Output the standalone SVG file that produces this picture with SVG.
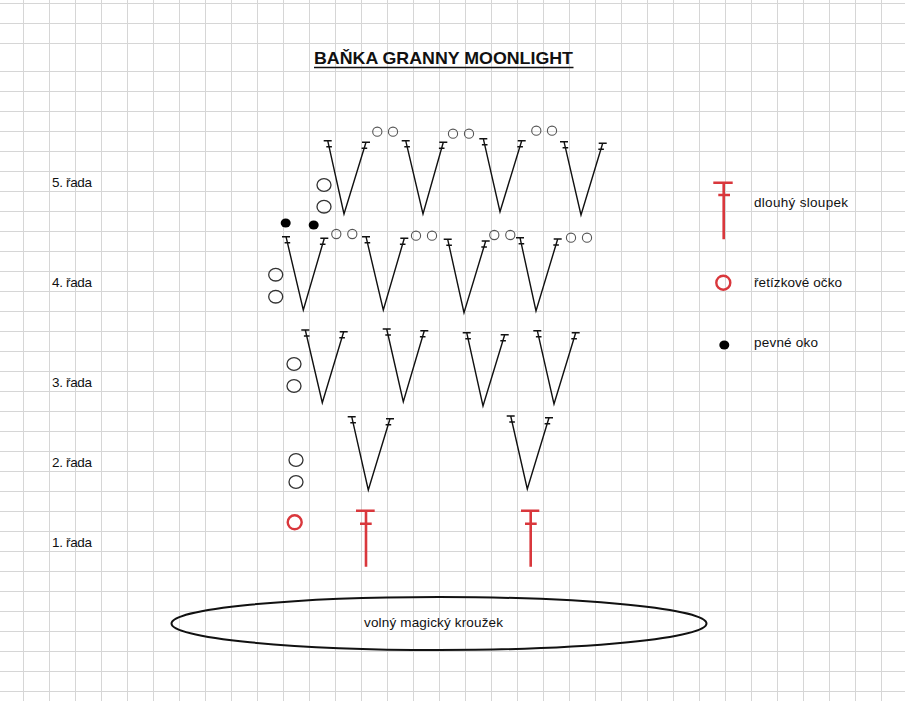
<svg xmlns="http://www.w3.org/2000/svg" width="905" height="701" viewBox="0 0 905 701">
<style>
.grid{stroke:#d6d6d6;stroke-width:1;fill:none}
.st{stroke:#111;stroke-width:1.4;fill:none;stroke-linecap:butt}
.ch{fill:none;stroke:#555;stroke-width:1.1}
.chb{fill:none;stroke:#333;stroke-width:1.3}
.sc{fill:#000}
.red{stroke:#d9373c;stroke-width:2.6;fill:none}
.redc{stroke:#d9373c;stroke-width:2.4;fill:none}
.lbl{font-family:"Liberation Sans",Arial,sans-serif;font-size:13.5px;fill:#111}
.title{font-family:"Liberation Sans",Arial,sans-serif;font-size:17px;font-weight:bold;fill:#111}
</style>
<rect width="905" height="701" fill="#fff"/>
<g id="grid">
<path class="grid" d="M23.5 0V701M49.5 0V701M75.5 0V701M101.5 0V701M127.5 0V701M153.5 0V701M179.5 0V701M205.5 0V701M231.5 0V701M257.5 0V701M283.5 0V701M309.5 0V701M335.5 0V701M361.5 0V701M387.5 0V701M413.5 0V701M439.5 0V701M465.5 0V701M491.5 0V701M517.5 0V701M543.5 0V701M569.5 0V701M595.5 0V701M621.5 0V701M647.5 0V701M673.5 0V701M699.5 0V701M725.5 0V701M751.5 0V701M777.5 0V701M803.5 0V701M829.5 0V701M855.5 0V701M881.5 0V701"/>
<path class="grid" d="M0 3.5H905M0 23.5H905M0 43.5H905M0 71.5H905M0 91.5H905M0 111.5H905M0 131.5H905M0 151.5H905M0 171.5H905M0 191.5H905M0 211.5H905M0 231.5H905M0 251.5H905M0 271.5H905M0 291.5H905M0 311.5H905M0 331.5H905M0 351.5H905M0 371.5H905M0 391.5H905M0 411.5H905M0 431.5H905M0 451.5H905M0 471.5H905M0 491.5H905M0 511.5H905M0 531.5H905M0 551.5H905M0 571.5H905M0 591.5H905M0 611.5H905M0 631.5H905M0 651.5H905M0 671.5H905M0 691.5H905"/>
</g>
<g id="title">
<text class="title" x="314" y="64" textLength="259" lengthAdjust="spacingAndGlyphs">BAŇKA GRANNY MOONLIGHT</text>
<path d="M314 67.5H573.5" stroke="#111" stroke-width="1.3"/>
</g>
<g id="row-labels">
<text class="lbl" x="52" y="187" textLength="40">5. řada</text>
<text class="lbl" x="52" y="287" textLength="40">4. řada</text>
<text class="lbl" x="52" y="387" textLength="40">3. řada</text>
<text class="lbl" x="52" y="467" textLength="40">2. řada</text>
<text class="lbl" x="52" y="547" textLength="40">1. řada</text>
</g>
<g id="row5">
<path class="st" d="M327.7 140.7L344 214L366 142.3M323.7 140.7h8M326.3 146.7h5.6M362 142.3h8M361.6 148.3h5.6"/>
<path class="st" d="M405.7 140.7L423 214L443.3 142.3M401.7 140.7h8M404.3 146.7h5.6M439.3 142.3h8M438.9 148.3h5.6"/>
<path class="st" d="M483.3 138.7L500 211.7L521.7 140.7M479.3 138.7h8M481.9 144.7h5.6M517.7 140.7h8M517.3 146.7h5.6"/>
<path class="st" d="M564 141.7L581 215L602.7 143.3M560 141.7h8M562.6 147.7h5.6M598.7 143.3h8M598.3 149.3h5.6"/>
<circle class="ch" cx="377.3" cy="131.7" r="4.6"/><circle class="ch" cx="393" cy="131.7" r="4.6"/>
<circle class="ch" cx="453" cy="133.7" r="4.6"/><circle class="ch" cx="469" cy="133.7" r="4.6"/>
<circle class="ch" cx="536.3" cy="130.7" r="4.6"/><circle class="ch" cx="552" cy="130.7" r="4.6"/>
<ellipse class="chb" cx="324" cy="185" rx="7" ry="6.3"/><ellipse class="chb" cx="324" cy="206.7" rx="7" ry="6.3"/>
<ellipse class="sc" cx="285.7" cy="223" rx="5" ry="4.5"/><ellipse class="sc" cx="313.7" cy="225" rx="5" ry="4.5"/>
</g>
<g id="row4">
<path class="st" d="M286 236.7L303.3 310L324.3 238.3M282 236.7h8M284.6 242.7h5.6M320.3 238.3h8M319.9 244.3h5.6"/>
<path class="st" d="M366 236.7L383.3 310L404.3 238.3M362 236.7h8M364.6 242.7h5.6M400.3 238.3h8M399.9 244.3h5.6"/>
<path class="st" d="M447.7 239.3L464 312.7L485.7 241M443.7 239.3h8M446.3 245.3h5.6M481.7 241h8M481.3 247h5.6"/>
<path class="st" d="M520 237.7L536 311L557.7 239M516 237.7h8M518.6 243.7h5.6M553.7 239h8M553.3 245h5.6"/>
<circle class="ch" cx="336.3" cy="234" r="4.6"/><circle class="ch" cx="352.3" cy="234" r="4.6"/>
<circle class="ch" cx="416" cy="235.7" r="4.6"/><circle class="ch" cx="432" cy="235.7" r="4.6"/>
<circle class="ch" cx="494.3" cy="235" r="4.6"/><circle class="ch" cx="510.3" cy="235" r="4.6"/>
<circle class="ch" cx="571" cy="237.7" r="4.6"/><circle class="ch" cx="587" cy="237.7" r="4.6"/>
<ellipse class="chb" cx="275.7" cy="274.7" rx="7" ry="6.3"/><ellipse class="chb" cx="275.7" cy="296.7" rx="7" ry="6.3"/>
</g>
<g id="row3">
<path class="st" d="M305.3 330L322.3 402.7L343.7 331.7M301.3 330h8M303.9 336h5.6M339.7 331.7h8M339.3 337.7h5.6"/>
<path class="st" d="M386.7 329L403.3 401.7L424.3 330.7M382.7 329h8M385.3 335h5.6M420.3 330.7h8M419.9 336.7h5.6"/>
<path class="st" d="M466.7 332.7L483 406L504.7 334.7M462.7 332.7h8M465.3 338.7h5.6M500.7 334.7h8M500.3 340.7h5.6"/>
<path class="st" d="M537.3 330.7L554 404L575.7 332.7M533.3 330.7h8M535.9 336.7h5.6M571.7 332.7h8M571.3 338.7h5.6"/>
<ellipse class="chb" cx="294" cy="364" rx="7" ry="6.3"/><ellipse class="chb" cx="294" cy="386" rx="7" ry="6.3"/>
</g>
<g id="row2">
<path class="st" d="M351.7 416.7L368.3 490L390 418.7M347.7 416.7h8M350.3 422.7h5.6M386 418.7h8M385.6 424.7h5.6"/>
<path class="st" d="M510.7 416L527.3 489L549 417.7M506.7 416h8M509.3 422h5.6M545 417.7h8M544.6 423.7h5.6"/>
<ellipse class="chb" cx="296" cy="460" rx="7" ry="6.3"/><ellipse class="chb" cx="296" cy="482" rx="7" ry="6.3"/>
</g>
<g id="row1">
<circle class="redc" cx="294.7" cy="522.3" r="7"/>
<path class="red" d="M366 510.7V566.7M356 510.7H374.7M360 523.7H371.7"/>
<path class="red" d="M530.7 510.7V566.7M521 510.7H539.3M525 523.7H536.7"/>
</g>
<g id="ring">
<ellipse cx="439" cy="623.5" rx="267.5" ry="26.5" fill="none" stroke="#111" stroke-width="2"/>
<text class="lbl" x="364" y="627" textLength="139">volný magický kroužek</text>
</g>
<g id="legend">
<path class="red" d="M723.7 182.7V239.3M713.3 182.7H732.7M718.3 195H730"/>
<text class="lbl" x="754" y="207" textLength="94">dlouhý sloupek</text>
<circle class="redc" cx="723.3" cy="282.7" r="7"/>
<text class="lbl" x="754" y="287" textLength="88">řetízkové očko</text>
<ellipse class="sc" cx="724.3" cy="345" rx="5" ry="4.6"/>
<text class="lbl" x="754" y="347" textLength="64">pevné oko</text>
</g>
</svg>
